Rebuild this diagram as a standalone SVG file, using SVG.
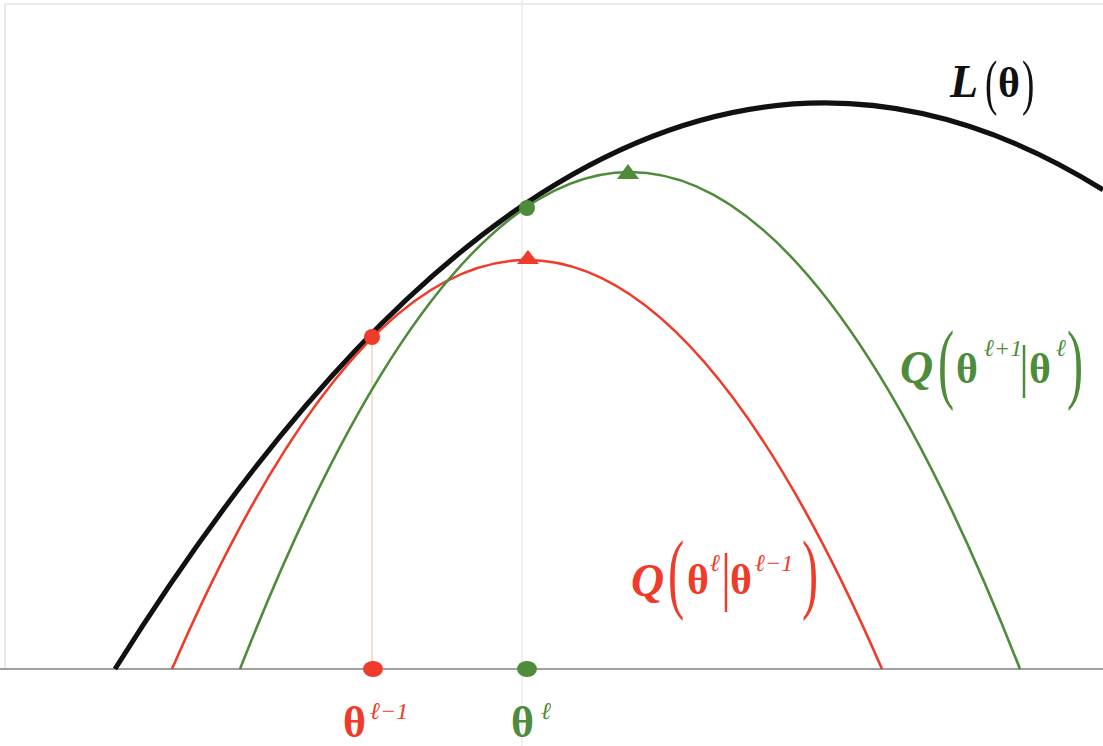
<svg xmlns="http://www.w3.org/2000/svg" width="1103" height="746" viewBox="0 0 1103 746">
<style>
.t{font-family:"Liberation Serif","Times New Roman",serif;font-weight:bold}
.it{font-style:italic}
.sup{font-family:"Liberation Serif","Times New Roman",serif;font-style:italic;font-weight:normal;font-size:24px}
.par{font-family:"Liberation Serif","Times New Roman",serif;font-weight:normal}
.red{fill:#ef3b2a}
.grn{fill:#4e8b3a}
.blk{fill:#111}
</style>
<rect width="1103" height="746" fill="#fff"/>
<g id="frame" stroke="#e2e2e2" stroke-width="1.5" fill="none">
<line x1="5" y1="4" x2="1103" y2="4"/>
<line x1="5" y1="4" x2="5" y2="669"/>
<line x1="522" y1="0" x2="522" y2="746" stroke="#ececec"/>
</g>
<g id="connectors" fill="none">
<line id="axis" x1="0" y1="669" x2="1103" y2="669" stroke="#a0a0a0" stroke-width="2"/>
<line x1="372" y1="337" x2="372" y2="669" stroke="#f6c9a8" stroke-width="1.2"/>
<path id="L" d="M115,669 Q609,-118.8 1103,189.8" stroke="#111" stroke-width="5"/>
<path id="Qred" d="M172,669 Q527,-149 882,669" stroke="#ef3b2a" stroke-width="2.6"/>
<path id="Qgrn" d="M240,669 Q630,-325 1020,669" stroke="#4e8b3a" stroke-width="2.6"/>
</g>
<g id="markers">
<circle cx="372" cy="337" r="8" fill="#ef3b2a"/>
<circle cx="527" cy="208" r="8" fill="#4e8b3a"/>
<ellipse cx="373" cy="669" rx="10" ry="8" fill="#ef3b2a"/>
<ellipse cx="527" cy="669" rx="10" ry="8" fill="#4e8b3a"/>
<polygon points="528,250 517,264 539,264" fill="#ef3b2a"/>
<polygon points="628,164 617,179 639,179" fill="#4e8b3a"/>
</g>
<g id="label-L" class="blk">
<text class="t it" x="950" y="97" font-size="46">L</text>
<text class="par" transform="translate(985,103) scale(0.6,1)" font-size="62">(</text>
<text class="t" x="998" y="97" font-size="42">θ</text>
<text class="par" transform="translate(1022,103) scale(0.6,1)" font-size="62">)</text>
</g>
<g id="label-Qgrn" class="grn">
<text class="t it" x="900" y="383" font-size="46">Q</text>
<text class="par" transform="translate(938,392) scale(0.55,1)" font-size="88">(</text>
<text class="t" x="956" y="383" font-size="42">θ</text>
<text class="sup" x="984" y="356">ℓ+1</text>
<line x1="1024" y1="345" x2="1024" y2="398" stroke="#4e8b3a" stroke-width="2.5"/>
<text class="t" x="1029" y="383" font-size="42">θ</text>
<text class="sup" x="1056" y="356">ℓ</text>
<text class="par" transform="translate(1067,392) scale(0.55,1)" font-size="88">)</text>
</g>
<g id="label-Qred" class="red">
<text class="t it" x="631" y="596" font-size="46">Q</text>
<text class="par" transform="translate(668,602) scale(0.55,1)" font-size="88">(</text>
<text class="t" x="687" y="594" font-size="42">θ</text>
<text class="sup" x="710" y="571">ℓ</text>
<line x1="726" y1="553" x2="726" y2="612" stroke="#ef3b2a" stroke-width="2.5"/>
<text class="t" x="730" y="594" font-size="42">θ</text>
<text class="sup" x="755" y="571">ℓ−1</text>
<text class="par" transform="translate(802,602) scale(0.55,1)" font-size="88">)</text>
</g>
<g id="label-theta-prev" class="red">
<text class="t" x="343" y="737" font-size="44">θ</text>
<text class="sup" x="370" y="719">ℓ−1</text>
</g>
<g id="label-theta-cur" class="grn">
<text class="t" x="511" y="737" font-size="44">θ</text>
<text class="sup" x="541" y="719">ℓ</text>
</g>
</svg>
